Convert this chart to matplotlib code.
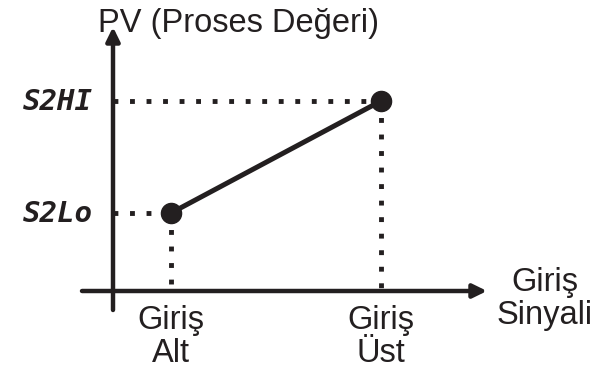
import matplotlib
matplotlib.use('Agg')
from matplotlib import pyplot as plt

# scaling: input signal (x) and process value (y), origin at the axes cross
giris = [0.58, 2.68]          # Giriş Alt, Giriş Üst
pv = [0.78, 1.90]             # S2Lo, S2HI
pv_labels = ['S2Lo', 'S2HI']
giris_labels = ['Giriş\nAlt', 'Giriş\nÜst']
x_title = 'Giriş\nSinyali'
y_title = 'PV (Proses Değeri)'

INK = '#231f20'
FONT = 'Liberation Sans'
FS = 23.5


def main():
    fig = plt.figure(figsize=(6.06, 3.83), dpi=100)
    ax = fig.add_axes([0, 0, 1, 1])
    ax.set_xlim(-1.13, 4.93)
    ax.set_ylim(-0.92, 2.91)
    ax.axis('off')

    arrow = dict(arrowstyle='-|>,head_length=0.55,head_width=0.27',
                 lw=3.2, color=INK, mutation_scale=15,
                 shrinkA=0, shrinkB=0)
    # axes with arrow heads
    ax.annotate('', xy=(0, 2.64), xytext=(0, -0.19), arrowprops=arrow)
    ax.annotate('', xy=(3.74, 0), xytext=(-0.31, 0), arrowprops=arrow)

    # dotted guides from each point back to the axes
    dots = dict(color=INK, lw=3.5, linestyle=(0, (1.0, 2.4)),
                dash_capstyle='butt', solid_capstyle='butt')
    for gx, py in zip(giris, pv):
        ax.plot([0, gx], [py, py], **dots)
        ax.plot([gx, gx], [py, 0], **dots)

    ax.plot(giris, pv, color=INK, lw=3.6, marker='o', markersize=14.5,
            solid_capstyle='round')

    for py, lab in zip(pv, pv_labels):
        ax.text(-0.2, py - 0.01, lab, ha='right', va='center',
                fontsize=21, family='DejaVu Sans Mono', weight='bold',
                style='oblique', color=INK)

    # multi-line labels: baseline refers to the last line
    for gx, lab in zip(giris, giris_labels):
        ax.text(gx, -0.71, lab, ha='center', va='baseline', fontsize=FS,
                family=FONT, color=INK, linespacing=1.1)

    ax.text(4.32, -0.33, x_title, ha='center', va='baseline', fontsize=FS,
            family=FONT, color=INK, linespacing=1.1)
    ax.text(-0.15, 2.59, y_title, ha='left', va='baseline', fontsize=FS,
            family=FONT, color=INK)

    fig.savefig('out.png', dpi=100)


if __name__ == '__main__':
    main()
